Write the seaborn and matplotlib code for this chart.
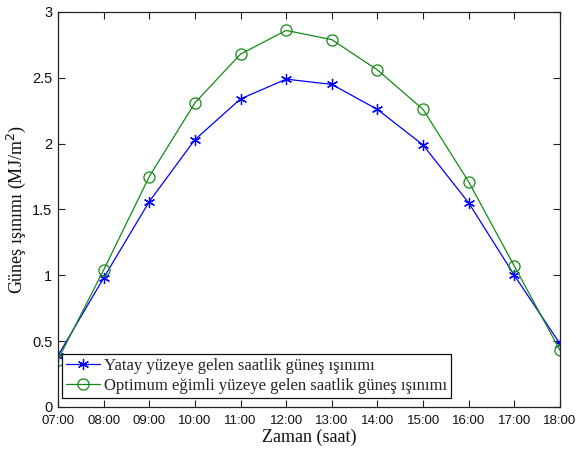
import matplotlib
matplotlib.use("Agg")
import matplotlib.pyplot as plt
import seaborn as sns
import pandas as pd
import numpy as np
from matplotlib.lines import Line2D

hours = ["07:00", "08:00", "09:00", "10:00", "11:00", "12:00",
         "13:00", "14:00", "15:00", "16:00", "17:00", "18:00"]
yatay = [0.39, 0.98, 1.56, 2.03, 2.34, 2.49, 2.45, 2.26, 1.99, 1.55, 1.00, 0.48]
optimum = [0.36, 1.04, 1.75, 2.31, 2.68, 2.86, 2.79, 2.56, 2.26, 1.71, 1.07, 0.43]
name_yatay = "Yatay yüzeye gelen saatlik güneş ışınımı"
name_opt = "Optimum eğimli yüzeye gelen saatlik güneş ışınımı"
yticks = [0, 0.5, 1, 1.5, 2, 2.5, 3]
ytick_labels = ["0", "0.5", "1", "1.5", "2", "2.5", "3"]

sns.set_style("white")
plt.rcParams['font.family'] = ['Liberation Serif', 'DejaVu Serif']

pos = list(range(len(hours)))
df_y = pd.DataFrame({"pos": pos, "val": yatay})
df_o = pd.DataFrame({"pos": pos, "val": optimum})

BLUE = "#0000ff"
GREEN = "#138a13"

fig = plt.figure(figsize=(5.76, 4.51), dpi=100)
ax = fig.add_axes([0.1007, 0.0976, 0.8715, 0.8758])

sns.lineplot(data=df_y, x="pos", y="val", color=BLUE, marker=(6, 2, 0),
             markersize=8, markeredgecolor=BLUE, markeredgewidth=0.9,
             linewidth=0.9, ax=ax, legend=False)
sns.lineplot(data=df_o, x="pos", y="val", color=GREEN, marker="o",
             markersize=8, markerfacecolor="none", markeredgecolor=GREEN,
             markeredgewidth=0.9, linewidth=0.9, ax=ax, legend=False)

ax.set_xlim(0, len(hours) - 1)
ax.set_ylim(0, 3)
ax.set_xticks(pos)
ax.set_xticklabels(hours, fontfamily="Liberation Sans", fontsize=9.5)
ax.set_yticks(yticks)
ax.set_yticklabels(ytick_labels, fontfamily="Liberation Sans", fontsize=10.5)
ax.tick_params(direction="in", length=5, width=0.8, top=True, right=True,
               bottom=True, left=True, pad=4, colors="#222222")
ax.tick_params(axis="x", pad=6)
ax.tick_params(axis="both", labelcolor="#111111")
for s in ax.spines.values():
    s.set_visible(True)
    s.set_color("#222222")
    s.set_linewidth(0.9)

ax.set_xlabel("Zaman (saat)", fontsize=13, color="#111111", labelpad=1)
ax.set_ylabel("Güneş ışınımı (MJ/m$^2$)", fontsize=13, color="#111111", labelpad=3)

handles = [
    Line2D([], [], color=BLUE, marker=(6, 2, 0), markersize=8,
           markeredgecolor=BLUE, linewidth=0.9, markeredgewidth=0.9),
    Line2D([], [], color=GREEN, marker="o", markersize=8,
           markerfacecolor="none", markeredgecolor=GREEN, linewidth=0.9,
           markeredgewidth=0.9),
]
leg = ax.legend(handles, [name_yatay, name_opt], loc="lower left",
                bbox_to_anchor=(0.008, 0.022), fontsize=12, frameon=True,
                fancybox=False, framealpha=1, edgecolor="#111111",
                borderpad=0.25, labelspacing=0.25, handlelength=2.0,
                handletextpad=0.25, borderaxespad=0)
leg.get_frame().set_linewidth(0.9)

fig.savefig("out.png", dpi=100)
